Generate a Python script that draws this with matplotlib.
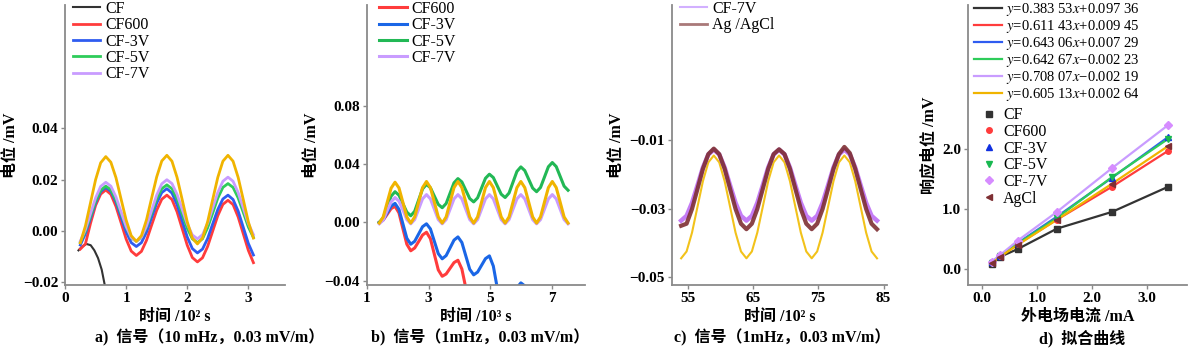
import numpy as np
import matplotlib
matplotlib.use("Agg")
import matplotlib.pyplot as plt
from matplotlib.ticker import FuncFormatter

plt.rcParams['font.family'] = ['Liberation Serif', 'Noto Sans CJK SC']
plt.rcParams['mathtext.fontset'] = 'stix'

# ---- panel a: 10 mHz signal (time in 10^2 s, sampled every 1/12 period)
t_a = np.arange(3, 38) / 12.0
cf_t = [0.22, 0.28, 0.35, 0.42, 0.48, 0.54, 0.60, 0.65, 0.70]
cf_a = [-0.0075, -0.006, -0.005, -0.0055, -0.0075, -0.0105, -0.015, -0.021, -0.027]
cf600_a = [-0.007, -0.005, 0.003, 0.010, 0.0144, 0.016,
           0.0143, 0.0096, 0.0033, -0.0031, -0.0078, -0.0095,
           -0.0079, -0.0036, 0.0023, 0.0081, 0.0124, 0.014,
           0.0123, 0.0075, 0.001, -0.0055, -0.0103, -0.012,
           -0.0104, -0.006, 0.0, 0.006, 0.0104, 0.012,
           0.0103, 0.0055, -0.001, -0.0075, -0.0123]
cf3v_a = [-0.0054, -0.001, 0.005, 0.011, 0.0154, 0.017,
          0.0155, 0.0113, 0.0055, -0.0003, -0.0045, -0.006,
          -0.0045, -0.0004, 0.0053, 0.0109, 0.015, 0.0165,
          0.0148, 0.0103, 0.004, -0.0023, -0.0068, -0.0085,
          -0.007, -0.0029, 0.0028, 0.0084, 0.0125, 0.014,
          0.0123, 0.0078, 0.0015, -0.0048, -0.0093]
cf5v_a = [-0.0044, -0.0001, 0.0058, 0.0116, 0.0159, 0.0175,
          0.0161, 0.0121, 0.0068, 0.0014, -0.0026, -0.004,
          -0.0025, 0.0015, 0.007, 0.0125, 0.0165, 0.018,
          0.0165, 0.0124, 0.0068, 0.0011, -0.003, -0.0045,
          -0.003, 0.0013, 0.007, 0.0128, 0.017, 0.0185,
          0.017, 0.0129, 0.0073, 0.0016, -0.0025]
cf7v_a = [-0.0039, 0.0006, 0.0068, 0.0129, 0.0174, 0.019,
          0.0175, 0.0133, 0.0075, 0.0018, -0.0025, -0.004,
          -0.0024, 0.002, 0.008, 0.014, 0.0184, 0.020,
          0.0185, 0.0143, 0.0085, 0.0028, -0.0015, -0.003,
          -0.0014, 0.003, 0.009, 0.015, 0.0194, 0.021,
          0.0194, 0.015, 0.009, 0.003, -0.0014]
agcl_a = [-0.0046, 0.002, 0.011, 0.020, 0.0266, 0.029,
          0.0268, 0.0208, 0.0125, 0.0043, -0.0018, -0.004,
          -0.0018, 0.0044, 0.0128, 0.0211, 0.0273, 0.0295,
          0.0272, 0.0209, 0.0123, 0.0036, -0.0027, -0.005,
          -0.0027, 0.0036, 0.0123, 0.0209, 0.0272, 0.0295,
          0.0272, 0.0209, 0.0123, 0.0036, -0.0027]

# ---- panel b: 1 mHz signal (time in 10^3 s, sampled every 1/8 period)
t_b = 1.40 + 0.1275 * np.arange(49)
cf600_b = [0.0, 0.0016, 0.0055, 0.0094,
           0.011, 0.0065, -0.0043, -0.015,
           -0.0195, -0.0176, -0.0132, -0.0087,
           -0.0068, -0.0112, -0.0219, -0.0326,
           -0.037, -0.0354, -0.0315, -0.0276,
           -0.026, -0.032, -0.045, -0.058]
cf3v_b = [0.0, 0.0019, 0.0065, 0.0111,
          0.013, 0.0089, -0.001, -0.0109,
          -0.015, -0.013, -0.008, -0.003,
          -0.001, -0.0045, -0.013, -0.0215,
          -0.025, -0.0228, -0.0175, -0.0122,
          -0.010, -0.0138, -0.023, -0.0322,
          -0.036, -0.0341, -0.0295, -0.0249,
          -0.023, -0.030, -0.045, -0.060,
          -0.065, -0.0616, -0.0533, -0.0449,
          -0.0415, -0.0436, -0.0488]
cf5v_b = [0.0, 0.0031, 0.0105, 0.0179,
          0.021, 0.0186, 0.0128, 0.007,
          0.0045, 0.0076, 0.0153, 0.0229,
          0.026, 0.0237, 0.018, 0.0123,
          0.010, 0.0129, 0.020, 0.0271,
          0.030, 0.0277, 0.022, 0.0163,
          0.014, 0.0168, 0.0235, 0.0302,
          0.033, 0.0307, 0.025, 0.0193,
          0.017, 0.0201, 0.0275, 0.0349,
          0.038, 0.0355, 0.0295, 0.0235,
          0.021, 0.0239, 0.031, 0.0381,
          0.041, 0.0382, 0.0315, 0.0248,
          0.022]
cf7v_b = [-0.001, 0.0015, 0.008, 0.014, 0.017, 0.0145, 0.0085, 0.0019,
          -0.001, 0.0019, 0.009, 0.0161, 0.019, 0.0161, 0.009, 0.0019,
          -0.001, 0.0019, 0.009, 0.0161, 0.019, 0.0161, 0.009, 0.0019,
          -0.001, 0.0019, 0.009, 0.0161, 0.019, 0.0161, 0.009, 0.0019,
          -0.001, 0.0019, 0.009, 0.0161, 0.019, 0.0161, 0.009, 0.0019,
          -0.001, 0.0019, 0.009, 0.0161, 0.019, 0.0161, 0.009, 0.0019,
          -0.001]
agcl_b = [-0.0005, 0.0037, 0.0136, 0.0234, 0.0275, 0.0236, 0.0137, 0.0037,
          -0.0005, 0.0037, 0.0138, 0.0238, 0.028, 0.0238, 0.0138, 0.0037,
          -0.0005, 0.0037, 0.0138, 0.0238, 0.028, 0.0238, 0.0138, 0.0037,
          -0.0005, 0.0037, 0.0138, 0.0238, 0.028, 0.0238, 0.0138, 0.0037,
          -0.0005, 0.0037, 0.0138, 0.0238, 0.028, 0.0238, 0.0138, 0.0037,
          -0.0005, 0.0037, 0.0138, 0.0238, 0.028, 0.0238, 0.0138, 0.0037,
          -0.0005]

# ---- panel c: 1 mHz signal, CF-7V vs Ag/AgCl (time in 10^2 s)
t_c = 54 + np.arange(37) * 10 / 12.0
cf7v_c = [-0.0335, -0.0321, -0.0283, -0.0232, -0.018, -0.0142,
          -0.0128, -0.0142, -0.018, -0.0232, -0.0283, -0.0321,
          -0.0335, -0.0321, -0.0283, -0.0232, -0.018, -0.0142,
          -0.0128, -0.0142, -0.018, -0.0232, -0.0283, -0.0321,
          -0.0335, -0.0321, -0.0283, -0.0232, -0.018, -0.0142,
          -0.0128, -0.0142, -0.018, -0.0232, -0.0283, -0.0321,
          -0.0335]
agcl_c = [-0.035, -0.0344, -0.0301, -0.0243, -0.0184, -0.0141,
          -0.0125, -0.0141, -0.0184, -0.0243, -0.0301, -0.0344,
          -0.036, -0.0344, -0.0301, -0.0243, -0.0184, -0.0141,
          -0.0127, -0.0141, -0.0184, -0.0243, -0.0301, -0.0344,
          -0.036, -0.0344, -0.0301, -0.0243, -0.0184, -0.0141,
          -0.012, -0.0138, -0.0184, -0.0243, -0.0301, -0.0344,
          -0.036]
ref_c = [-0.0445, -0.0425, -0.037, -0.0295, -0.022, -0.0165,
         -0.0145, -0.0165, -0.022, -0.0295, -0.037, -0.0425,
         -0.0445, -0.0425, -0.037, -0.0295, -0.022, -0.0165,
         -0.0145, -0.0165, -0.022, -0.0295, -0.037, -0.0425,
         -0.0445, -0.0425, -0.037, -0.0295, -0.022, -0.0165,
         -0.0145, -0.0165, -0.022, -0.0295, -0.037, -0.0425,
         -0.0445]

# ---- panel d: response potential vs applied current
current = [0.18, 0.33, 0.65, 1.36, 2.36, 3.38]
resp = {
    'CF':    [0.08, 0.20, 0.33, 0.67, 0.95, 1.37],
    'CF600': [0.11, 0.21, 0.41, 0.82, 1.37, 1.97],
    'CF-3V': [0.11, 0.22, 0.43, 0.87, 1.52, 2.20],
    'CF-5V': [0.10, 0.21, 0.42, 0.85, 1.53, 2.17],
    'CF-7V': [0.12, 0.23, 0.47, 0.95, 1.68, 2.40],
    'AgCl':  [0.09, 0.20, 0.40, 0.82, 1.42, 2.05],
}
fit_labels = [r"$y$=0.383 53$x$+0.097 36",
              r"$y$=0.611 43$x$+0.009 45",
              r"$y$=0.643 06$x$+0.007 29",
              r"$y$=0.642 67$x$−0.002 23",
              r"$y$=0.708 07$x$−0.002 19",
              r"$y$=0.605 13$x$+0.002 64"]

c_black = '#333333'
c_red = '#ff3c3c'
c_blue = '#2f5cf0'
c_green = '#2ecc5a'
c_purple = '#c99cff'
c_orange = '#f0b400'
c_brown = '#7e2f33'
spine_c = '#8a8a8a'

lab_font = dict(fontsize=11.5, fontweight='bold')


def minus_fmt(nd):
    return FuncFormatter(lambda v, p: f"{v:.{nd}f}".replace('-', '\u2212'))


def style(ax, xlim, ylim, xt, yt, nd, xlabel, ylabel):
    ax.set_xlim(*xlim)
    ax.set_ylim(*ylim)
    ax.set_xticks(xt)
    ax.set_yticks(yt)
    ax.yaxis.set_major_formatter(minus_fmt(nd))
    if nd == 1:
        ax.xaxis.set_major_formatter(minus_fmt(1))
    for s in ['top', 'right']:
        ax.spines[s].set_visible(False)
    for s in ['left', 'bottom']:
        ax.spines[s].set_color(spine_c)
        ax.spines[s].set_linewidth(1.3)
    ax.tick_params(direction='out', length=3, width=1, color=spine_c,
                   labelsize=11, pad=2)
    for lab in ax.get_xticklabels() + ax.get_yticklabels():
        lab.set_fontweight('bold')
    ax.set_xlabel(xlabel, labelpad=3, **lab_font)
    ax.set_ylabel(ylabel, labelpad=3, **lab_font)


def legend(ax, **kw):
    opts = dict(loc='upper left', frameon=False, fontsize=11.5, borderpad=0.1,
                borderaxespad=0, handlelength=1.7, handletextpad=0.3,
                labelspacing=0.02)
    opts.update(kw)
    return ax.legend(**opts)


fig = plt.figure(figsize=(12, 3.59), dpi=100)
bot, hgt = 0.206, 0.780

# a
ax = fig.add_axes([0.0542, bot, 0.1833, hgt])
ax.plot(cf_t, cf_a, color=c_black, lw=1.5, label='CF')
ax.plot(t_a, cf600_a, color=c_red, lw=2, label='CF600')
ax.plot(t_a, cf3v_a, color=c_blue, lw=2, label='CF-3V')
ax.plot(t_a, cf5v_a, color=c_green, lw=2, label='CF-5V')
ax.plot(t_a, cf7v_a, color=c_purple, lw=2, label='CF-7V')
ax.plot(t_a, agcl_a, color=c_orange, lw=2)
style(ax, (0, 3.6), (-0.021, 0.088), [0, 1, 2, 3], [-0.02, 0.0, 0.02, 0.04], 2,
      '时间 /10² s', '电位 /mV')
ax.set_xticklabels(['0', '1', '2', '3'], fontweight='bold')
legend(ax, bbox_to_anchor=(0.03, 1.02))

# b
ax = fig.add_axes([0.3058, bot, 0.1817, hgt])
ax.plot(t_b[:len(cf600_b)], cf600_b, color=c_red, lw=2.2, label='CF600')
ax.plot(t_b[:len(cf3v_b)], cf3v_b, color='#1a66e6', lw=2.2, label='CF-3V')
ax.plot(t_b, cf5v_b, color='#22b855', lw=2.2, label='CF-5V')
ax.plot(t_b, cf7v_b, color=c_purple, lw=2.2, label='CF-7V')
ax.plot(t_b, agcl_b, color=c_orange, lw=2.2)
style(ax, (1, 8.07), (-0.043, 0.149), [1, 3, 5, 7], [-0.04, 0.0, 0.04, 0.08], 2,
      '时间 /10³ s', '电位 /mV')
legend(ax, bbox_to_anchor=(0.05, 1.02))

# c
ax = fig.add_axes([0.56, bot, 0.179, hgt])
ax.plot(t_c, ref_c, color='#f2c21a', lw=1.5)
ax.plot(t_c, cf7v_c, color='#c47cf5', lw=3.2, label='CF-7V')
ax.plot(t_c, agcl_c, color=c_brown, lw=3.0, alpha=0.9, label='Ag /AgCl')
style(ax, (52.6, 85.5), (-0.0523, 0.0294), [55, 65, 75, 85], [-0.05, -0.03, -0.01], 2,
      '时间 /10² s', '电位 /mV')
leg = legend(ax, bbox_to_anchor=(0.03, 1.02))
leg.get_lines()[0].set_color('#d2b0ff')
leg.get_lines()[0].set_linewidth(1.5)
leg.get_lines()[1].set_color('#a06a6a')
leg.get_lines()[1].set_linewidth(2)

# d
ax = fig.add_axes([0.8067, bot, 0.1825, hgt])
line_cols = [c_black, c_red, c_blue, c_green, c_purple, c_orange]
mark_cols = [c_black, c_red, '#1030e0', '#18b850', '#d68cff', c_brown]
markers = ['s', 'o', '^', 'v', 'D', '<']
fit_lines = []
for (name, vals), col, lab in zip(resp.items(), line_cols, fit_labels):
    ln, = ax.plot(current, vals, color=col, lw=1.6, label=lab)
    fit_lines.append(ln)
pts = []
for (name, vals), col, mk in zip(resp.items(), mark_cols, markers):
    p, = ax.plot(current, vals, ls='none', marker=mk, ms=4, color=col, label=name)
    pts.append(p)
style(ax, (-0.25, 3.72), (-0.27, 4.4), [0, 1, 2, 3], [0, 1, 2], 1,
      '外电场电流 /mA', '响应电位 /mV')
leg1 = ax.legend(handles=fit_lines, loc='upper left', bbox_to_anchor=(0.02, 1.02),
                 frameon=False, fontsize=10.5, borderpad=0.1, borderaxespad=0,
                 handlelength=1.9, handletextpad=0.3, labelspacing=0.0)
ax.add_artist(leg1)
ax.legend(handles=pts, loc='upper left', bbox_to_anchor=(0.05, 0.64),
          frameon=False, fontsize=11.5, borderpad=0.1, borderaxespad=0,
          handlelength=1.0, handletextpad=0.4, labelspacing=0.04)

cap_font = dict(fontsize=11.5, fontweight='bold', ha='center', va='center')
fig.text(0.175, 0.058, 'a)  信号（10 mHz，0.03 mV/m）', **cap_font)
fig.text(0.400, 0.058, 'b)  信号（1mHz，0.03 mV/m）', **cap_font)
fig.text(0.652, 0.058, 'c)  信号（1mHz，0.03 mV/m）', **cap_font)
fig.text(0.902, 0.058, 'd)  拟合曲线', **cap_font)

fig.savefig('out.png', dpi=100)
